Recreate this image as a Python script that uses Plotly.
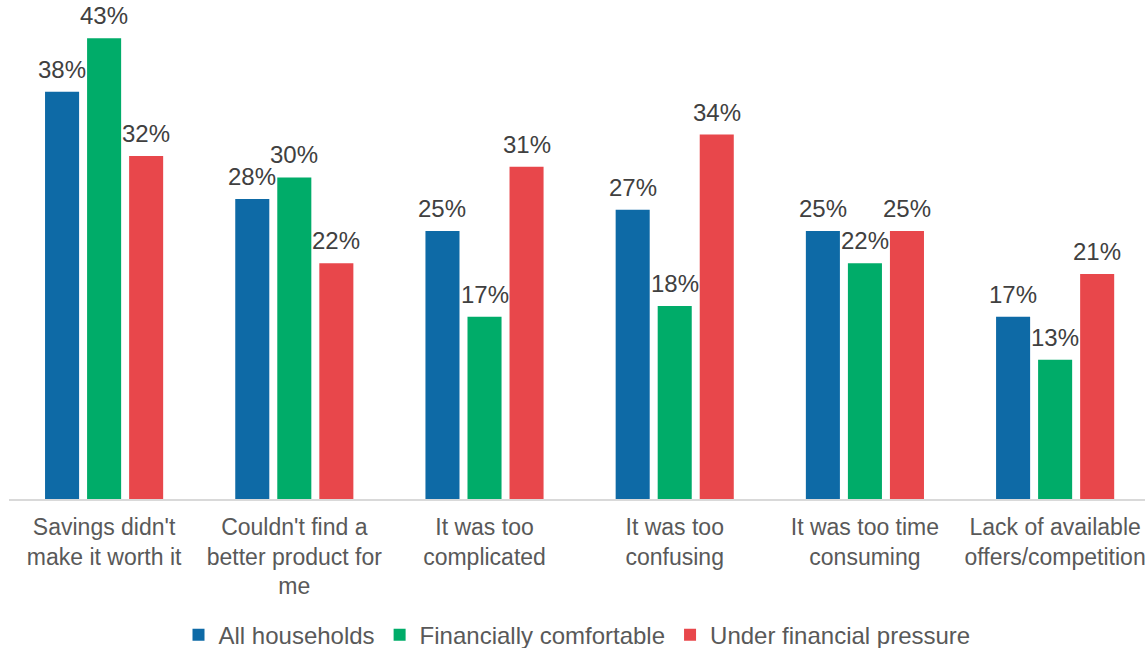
import plotly.graph_objects as go

categories = [
    "Savings didn't<br>make it worth it",
    "Couldn't find a<br>better product for<br>me",
    "It was too<br>complicated",
    "It was too<br>confusing",
    "It was too time<br>consuming",
    "Lack of available<br>offers/competition",
]
series_names = ["All households", "Financially comfortable", "Under financial pressure"]
all_households = [38, 28, 25, 27, 25, 17]
financially_comfortable = [43, 30, 17, 18, 22, 13]
under_financial_pressure = [32, 22, 31, 34, 25, 21]

series_values = [all_households, financially_comfortable, under_financial_pressure]
colors = ["#0E6AA6", "#00AC69", "#E8474B"]

FONT = "Liberation Sans, Arial, sans-serif"

fig = go.Figure()
for name, vals, col in zip(series_names, series_values, colors):
    fig.add_trace(go.Bar(
        x=categories, y=vals, name=name,
        marker=dict(color=col, line=dict(width=0)),
    ))

# value labels above each bar, offset to sit over its own bar in the group
slot = 0.6632 / 3
for i, vals in enumerate(series_values):
    for j, v in enumerate(vals):
        fig.add_annotation(
            x=j + (i - 1) * slot, y=v, xref="x", yref="y",
            text=f"{v}%", showarrow=False,
            yanchor="bottom", xanchor="center", yshift=7,
            font=dict(family=FONT, size=24, color="#404040"),
        )

fig.update_layout(
    width=1145, height=648,
    margin=dict(l=9, r=0, t=6, b=149),
    paper_bgcolor="white", plot_bgcolor="white",
    barmode="group", bargap=0.337, bargroupgap=0.19,
    font=dict(family=FONT, color="#595959"),
    showlegend=True,
    legend=dict(
        orientation="h", x=0.5, xanchor="center",
        yref="container", y=0.02, yanchor="middle",
        font=dict(family=FONT, size=24, color="#595959"),
    ),
)
fig.update_xaxes(
    type="category", range=[-0.5, 5.4725],
    showline=True, linecolor="#D9D9D9", linewidth=2,
    ticks="", showgrid=False, ticklabelstandoff=6,
    tickfont=dict(family=FONT, size=23, color="#595959"),
)
fig.update_yaxes(
    range=[0, 46], visible=False, showgrid=False, zeroline=False,
)

fig.write_html("out.html")
